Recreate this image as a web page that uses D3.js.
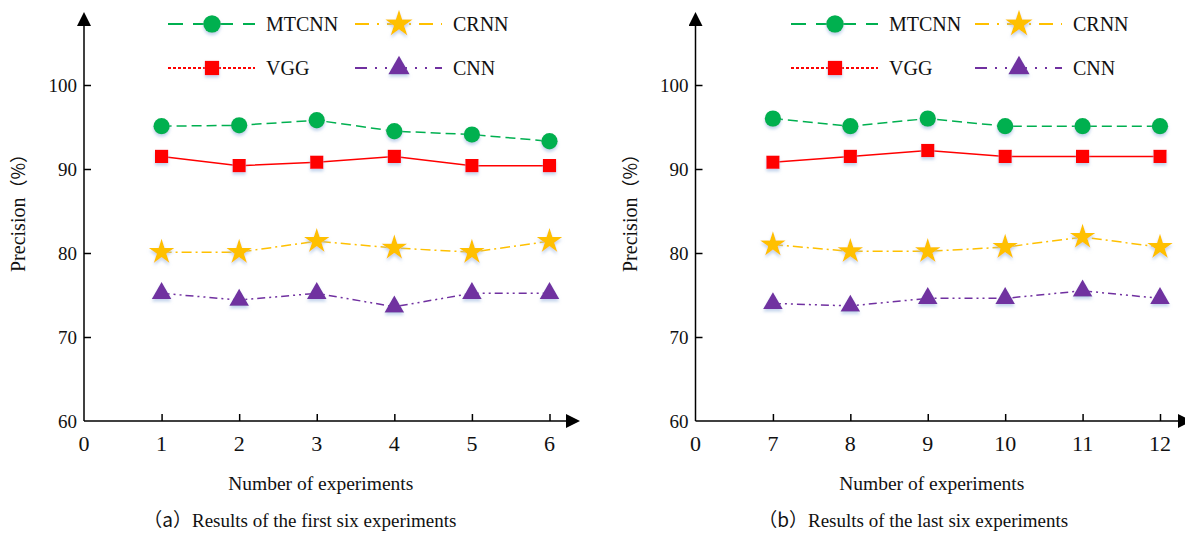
<!DOCTYPE html>
<html lang="en">
<head>
    <meta charset="UTF-8">
    <title>Precision of four models</title>
    <style>
        body { margin: 0; background: #fff; }
        text { font-family: "Liberation Serif", "Times New Roman", serif; fill: #111; }
        text.cjk { font-family: "Noto Sans CJK SC", sans-serif; }
    </style>
</head>
<body>
    <svg id="chart" width="1185" height="533"></svg>

<script src="https://cdn.jsdelivr.net/npm/d3@7/dist/d3.min.js"></script>
<script>

    // data
    let models = ["MTCNN", "CRNN", "VGG", "CNN"]
    let yTicks = [60, 70, 80, 90, 100]

    let xLabelsA = ["0", "1", "2", "3", "4", "5", "6"]
    let mtcnnA = [95.1, 95.2, 95.8, 94.5, 94.1, 93.3]
    let vggA   = [91.5, 90.4, 90.8, 91.5, 90.4, 90.4]
    let crnnA  = [80.1, 80.1, 81.4, 80.6, 80.1, 81.4]
    let cnnA   = [75.2, 74.4, 75.2, 73.6, 75.2, 75.2]

    let xLabelsB = ["0", "7", "8", "9", "10", "11", "12"]
    let mtcnnB = [96.0, 95.1, 96.0, 95.1, 95.1, 95.1]
    let vggB   = [90.8, 91.5, 92.2, 91.5, 91.5, 91.5]
    let crnnB  = [81.0, 80.2, 80.2, 80.7, 81.9, 80.7]
    let cnnB   = [74.0, 73.7, 74.6, 74.6, 75.5, 74.6]

    let style = {
        MTCNN: { color: "#00B050", dash: "10,5",  legendDash: "15,10", symbol: d3.symbolCircle,   size: 210 },
        CRNN:  { color: "#FFC000", dash: "10,4,2,4", legendDash: "14,8,2,8", symbol: d3.symbolStar, size: 200 },
        VGG:   { color: "#FF0000", dash: null,   legendDash: "3,2",   symbol: d3.symbolSquare,   size: 175 },
        CNN:   { color: "#7030A0", dash: "8,4,2,4,2,4", legendDash: "12,8,2,8,2,8", symbol: d3.symbolTriangle, size: 165 }
    }

    let svg = d3.select("#chart")
    let defs = svg.append("defs")
    let f = defs.append("filter").attr("id", "shadow")
        .attr("x", "-50%").attr("y", "-50%").attr("width", "200%").attr("height", "200%")
    f.append("feDropShadow").attr("dx", 0).attr("dy", 2.5).attr("stdDeviation", 1.5)
        .attr("flood-color", "#9bb7e0").attr("flood-opacity", 0.6)

    let marker = defs.append("marker").attr("id", "arrow")
        .attr("viewBox", "0 0 10 10").attr("refX", 0).attr("refY", 5)
        .attr("markerWidth", 14).attr("markerHeight", 14).attr("markerUnits", "userSpaceOnUse")
        .attr("orient", "auto")
    marker.append("path").attr("d", "M0,0 L10,5 L0,10 Z").attr("fill", "#000")

    function drawPanel(p) {
        let g = svg.append("g")
        let x = d3.scaleLinear().domain([0, 6]).range([p.x0, p.x1])
        let y = d3.scaleLinear().domain([60, 100]).range([421, 85])

        // axes lines with arrows
        g.append("line").attr("x1", p.x0).attr("x2", p.x0).attr("y1", y(60)).attr("y2", 26)
            .attr("stroke", "#000").attr("stroke-width", 1.5).attr("marker-end", "url(#arrow)")
        g.append("line").attr("x1", p.x0).attr("x2", p.xEnd - 14).attr("y1", y(60)).attr("y2", y(60))
            .attr("stroke", "#000").attr("stroke-width", 1.5).attr("marker-end", "url(#arrow)")

        // y axis ticks and labels
        let yAxis = d3.axisRight(y).tickValues(yTicks).tickSize(7).tickFormat("")
        g.append("g").attr("transform", `translate(${p.x0},0)`).call(yAxis)
            .call(a => a.select(".domain").remove())
            .call(a => a.selectAll("line").attr("stroke-width", 1.5).filter(d => d == 60).remove())
        g.selectAll(".ylab").data(yTicks).enter().append("text")
            .attr("x", p.x0 - 7).attr("y", d => y(d)).attr("dy", "0.35em")
            .attr("text-anchor", "end").attr("font-size", 19).text(d => d)

        // x axis ticks and labels
        let xAxis = d3.axisTop(x).ticks(6).tickSize(7).tickFormat("")
        g.append("g").attr("transform", `translate(0,${y(60)})`).call(xAxis)
            .call(a => a.select(".domain").remove())
            .call(a => a.selectAll("line").attr("stroke-width", 1.5).filter(d => d == 0).remove())
        g.selectAll(".xlab").data(p.labels).enter().append("text")
            .attr("x", (d, i) => x(i)).attr("y", 451)
            .attr("text-anchor", "middle").attr("font-size", 22).text(d => d)

        // x title
        g.append("text").attr("x", (p.x0 + p.x1) / 2 + 4).attr("y", 490)
            .attr("text-anchor", "middle").attr("font-size", 19.5).text("Number of experiments")

        // y title: latin part and full-width bracket part as separate texts
        let yt = g.append("g").attr("transform", `translate(${p.x0 - 59},${272}) rotate(-90)`)
        let word = yt.append("text").attr("x", 0).attr("y", 0).attr("font-size", 20).text("Precision")
        yt.append("text").attr("class", "cjk").attr("x", word.node().getComputedTextLength())
            .attr("y", 0).attr("font-size", 18).text("（%）")

        // caption
        g.append("text").attr("class", "cjk").attr("x", p.capX).attr("y", 527)
            .attr("text-anchor", "end").attr("font-size", 19).text("（" + p.tag + "）")
        g.append("text").attr("x", p.capX).attr("y", 527)
            .attr("font-size", 19).text(p.caption)

        // series
        let line = d3.line().x((d, i) => x(i + 1)).y(d => y(d))
        models.forEach(m => {
            let s = style[m]
            g.append("path").datum(p.series[m]).attr("d", line)
                .attr("fill", "none").attr("stroke", s.color).attr("stroke-width", 1.5)
                .attr("stroke-dasharray", s.dash)
            g.selectAll(".pt-" + m).data(p.series[m]).enter().append("path")
                .attr("d", d3.symbol(s.symbol, s.size))
                .attr("transform", (d, i) => `translate(${x(i + 1)},${y(d)})`)
                .attr("fill", s.color).attr("filter", "url(#shadow)")
        })

        // legend
        let rows = { MTCNN: [0, 0], CRNN: [1, 0], VGG: [0, 1], CNN: [1, 1] }
        models.forEach(m => {
            let s = style[m]
            let lx = p.legX + rows[m][0] * p.legCol
            let ly = 24 + rows[m][1] * 44
            g.append("line").attr("x1", lx).attr("x2", lx + 87).attr("y1", ly).attr("y2", ly)
                .attr("stroke", s.color).attr("stroke-width", 2).attr("stroke-dasharray", s.legendDash)
            g.append("path").attr("d", d3.symbol(s.symbol, s.size + 30))
                .attr("transform", `translate(${lx + 44},${ly})`)
                .attr("fill", s.color).attr("filter", "url(#shadow)")
            g.append("text").attr("x", lx + 98).attr("y", ly).attr("dy", "0.35em")
                .attr("font-size", 20).text(m)
        })
    }

    drawPanel({
        x0: 84, x1: 549.5, xEnd: 580, labels: xLabelsA, legX: 168, legCol: 187, capX: 192,
        tag: "a", caption: "Results of the first six experiments",
        series: { MTCNN: mtcnnA, CRNN: crnnA, VGG: vggA, CNN: cnnA }
    })
    drawPanel({
        x0: 695.5, x1: 1160, xEnd: 1192, labels: xLabelsB, legX: 791, legCol: 184, capX: 808,
        tag: "b", caption: "Results of the last six experiments",
        series: { MTCNN: mtcnnB, CRNN: crnnB, VGG: vggB, CNN: cnnB }
    })

</script>
</body>
</html>
